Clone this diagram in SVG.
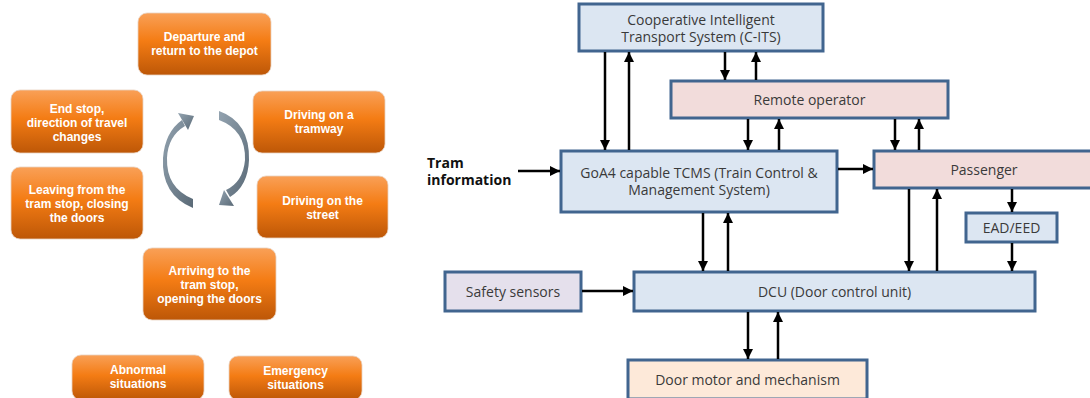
<svg xmlns="http://www.w3.org/2000/svg" width="1090" height="398" viewBox="0 0 1090 398">
  <defs>
    <linearGradient id="orange" x1="0" y1="0" x2="0" y2="1">
      <stop offset="0" stop-color="#f9a057"/>
      <stop offset="0.45" stop-color="#f47c14"/>
      <stop offset="1" stop-color="#bd5707"/>
    </linearGradient>
    <linearGradient id="cycle" x1="0" y1="0" x2="1" y2="1">
      <stop offset="0" stop-color="#93a3b0"/>
      <stop offset="1" stop-color="#5a6a77"/>
    </linearGradient>
    <marker id="ah" viewBox="0 0 10 10" refX="10" refY="5" markerWidth="4" markerHeight="4" orient="auto" markerUnits="strokeWidth">
      <path d="M0,0 L10,5 L0,10 Z" fill="#000"/>
    </marker>
  </defs>
  <style>
    .ob { fill: url(#orange); stroke: #e9d2c0; stroke-width: 0.8; }
    .ot { font-family: "Liberation Sans", Arial, sans-serif; font-weight: bold; font-size: 12px; fill: #ffffff; text-anchor: middle; }
    .bx { stroke: #41658f; stroke-width: 3; }
    .blue { fill: #dce6f2; }
    .pink { fill: #f2dcdb; }
    .lav { fill: #e5e0ec; }
    .peach { fill: #fde9d9; }
    .bt { font-family: "Open Sans", "Noto Sans", sans-serif; font-size: 14px; fill: #3a3a3a; text-anchor: middle; }
    .lbl { font-family: "Open Sans", "Noto Sans", sans-serif; font-size: 14px; font-weight: bold; fill: #111; }
    .cn line { stroke: #000; stroke-width: 2.5; marker-end: url(#ah); }
    .cyc { fill: url(#cycle); }
  </style>

  <!-- operating scenarios -->
  <g id="depot"><rect class="ob" x="138" y="13" width="133" height="62" rx="9"/>
    <text class="ot" x="204.5" y="41">Departure and</text><text class="ot" x="204.5" y="55">return to the depot</text></g>
  <g id="endstop"><rect class="ob" x="11" y="90" width="132" height="63" rx="9"/>
    <text class="ot" x="77" y="113">End stop,</text><text class="ot" x="77" y="127">direction of travel</text><text class="ot" x="77" y="141">changes</text></g>
  <g id="tramway"><rect class="ob" x="253" y="91" width="132" height="62" rx="9"/>
    <text class="ot" x="319" y="119">Driving on a</text><text class="ot" x="319" y="133">tramway</text></g>
  <g id="leaving"><rect class="ob" x="11" y="167" width="132" height="72" rx="9"/>
    <text class="ot" x="77" y="194">Leaving from the</text><text class="ot" x="77" y="208">tram stop, closing</text><text class="ot" x="77" y="222">the doors</text></g>
  <g id="street"><rect class="ob" x="257" y="176" width="131" height="62" rx="9"/>
    <text class="ot" x="322.5" y="205">Driving on the</text><text class="ot" x="322.5" y="219">street</text></g>
  <g id="arriving"><rect class="ob" x="143" y="248" width="133" height="72" rx="9"/>
    <text class="ot" x="209.5" y="275">Arriving to the</text><text class="ot" x="209.5" y="289">tram stop,</text><text class="ot" x="209.5" y="303">opening the doors</text></g>
  <g id="abnormal"><rect class="ob" x="72" y="355" width="132" height="45" rx="9"/>
    <text class="ot" x="138" y="374">Abnormal</text><text class="ot" x="138" y="388">situations</text></g>
  <g id="emergency"><rect class="ob" x="229" y="356" width="133" height="44" rx="9"/>
    <text class="ot" x="295.5" y="375">Emergency</text><text class="ot" x="295.5" y="389">situations</text></g>

  <!-- cycle arrows: tapered arcs with heads -->
  <g id="cycle-arrows">
    <path class="cyc" d="M193,208 Q161,195 163,158 Q165,132 182,120 L185,126 Q168,136 167,158 Q166,188 193,199 Z"/>
    <polygon class="cyc" points="194,116 178,113 188,130"/>
    <path class="cyc" d="M219,111 Q250,122 249,160 Q248,186 230,197 L226,190 Q243,182 245,160 Q246,130 219,120 Z"/>
    <polygon class="cyc" points="219,205 234,206 224,190"/>
  </g>

  <!-- system blocks -->
  <g id="cits"><rect class="bx blue" x="579" y="4" width="244" height="47"/>
    <text class="bt" x="701" y="25">Cooperative Intelligent</text><text class="bt" x="701" y="42">Transport System (C-ITS)</text></g>
  <g id="remote"><rect class="bx pink" x="671" y="81" width="277" height="37"/>
    <text class="bt" x="809.5" y="105">Remote operator</text></g>
  <g id="tcms"><rect class="bx blue" x="561" y="151" width="276" height="61"/>
    <text class="bt" x="699" y="178">GoA4 capable TCMS (Train Control &amp;</text><text class="bt" x="699" y="195">Management System)</text></g>
  <g id="passenger"><rect class="bx pink" x="874" y="151" width="220" height="37"/>
    <text class="bt" x="984" y="175">Passenger</text></g>
  <g id="eadeed"><rect class="bx blue" x="966" y="213" width="91" height="29"/>
    <text class="bt" x="1011.5" y="233">EAD/EED</text></g>
  <g id="sensors"><rect class="bx lav" x="445" y="272" width="136" height="39"/>
    <text class="bt" x="513" y="297">Safety sensors</text></g>
  <g id="dcu"><rect class="bx blue" x="634" y="272" width="401" height="39"/>
    <text class="bt" x="834.5" y="297">DCU (Door control unit)</text></g>
  <g id="motor"><rect class="bx peach" x="628" y="360" width="239" height="39"/>
    <text class="bt" x="747.5" y="385">Door motor and mechanism</text></g>
  <g id="traminfo"><text class="lbl" x="427" y="168">Tram</text><text class="lbl" x="427" y="185">information</text></g>

  <!-- connectors -->
  <g id="connectors" class="cn">
    <line x1="605" y1="52" x2="605" y2="150"/>
    <line x1="629" y1="150" x2="629" y2="52"/>
    <line x1="725" y1="52" x2="725" y2="80"/>
    <line x1="756" y1="80" x2="756" y2="52"/>
    <line x1="748" y1="119" x2="748" y2="150"/>
    <line x1="779" y1="150" x2="779" y2="119"/>
    <line x1="895" y1="119" x2="895" y2="150"/>
    <line x1="919" y1="150" x2="919" y2="119"/>
    <line x1="518" y1="171" x2="560" y2="171"/>
    <line x1="838" y1="169" x2="873" y2="169"/>
    <line x1="703" y1="213" x2="703" y2="271"/>
    <line x1="728" y1="271" x2="728" y2="213"/>
    <line x1="909" y1="189" x2="909" y2="271"/>
    <line x1="937" y1="271" x2="937" y2="189"/>
    <line x1="1012" y1="189" x2="1012" y2="212"/>
    <line x1="1012" y1="243" x2="1012" y2="271"/>
    <line x1="582" y1="291" x2="633" y2="291"/>
    <line x1="748" y1="312" x2="748" y2="359"/>
    <line x1="778" y1="359" x2="778" y2="312"/>
  </g>
</svg>
